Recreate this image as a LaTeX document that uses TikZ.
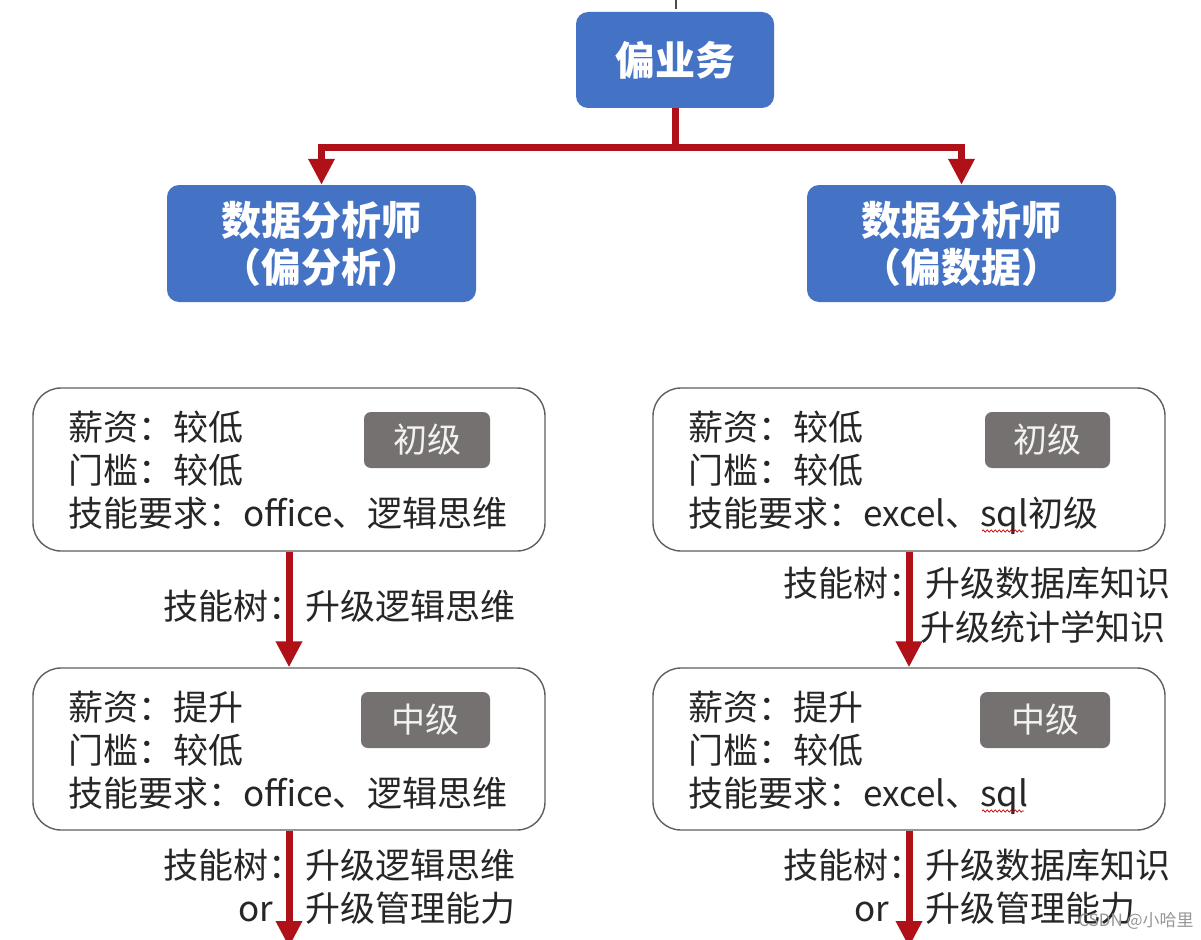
\documentclass[tikz,border=0pt]{standalone}
\usepackage{fontspec}
\newfontfamily\cjk{Noto Sans CJK SC}
\usetikzlibrary{arrows.meta,decorations.pathmorphing}
\definecolor{boxblue}{RGB}{68,114,196}
\definecolor{darkred}{RGB}{176,16,24}
\definecolor{graylab}{RGB}{118,113,113}
\definecolor{txtcol}{RGB}{38,38,38}
\definecolor{bordcol}{RGB}{95,95,95}
\begin{document}
\begin{tikzpicture}[x=1pt,y=-1pt,
  bluenode/.style={fill=boxblue, rounded corners=12pt, inner sep=0pt, text=white,
    font=\cjk\bfseries\fontsize{40}{47}\selectfont, align=center},
  whitebox/.style={draw=bordcol, line width=1.4pt, fill=white, rounded corners=28pt,
    minimum width=512pt, minimum height=163pt, inner sep=0pt},
  levelbox/.style={fill=graylab, rounded corners=7pt, inner sep=0pt, minimum height=56pt,
    text={rgb,255:red,242;green,242;blue,242}, font=\cjk\fontsize{34}{34}\selectfont},
  bodytext/.style={anchor=base west, inner sep=0pt, text=txtcol,
    font=\cjk\fontsize{35}{35}\selectfont},
  bodytextr/.style={bodytext, anchor=base east},
  conn/.style={draw=darkred, line width=7pt, line join=miter},
  arr/.style={conn, -{Triangle[width=25pt,length=26pt]}},
  squig/.style={draw=red!80!black, line width=0.7pt, decorate,
    decoration={snake, amplitude=1.1pt, segment length=4pt}}
]
\clip (0,0) rectangle (1201,939);
\fill[white] (0,0) rectangle (1201,939);

% tiny mark at top
\coordinate (tk1) at (676,0);
\coordinate (tk2) at (676,9);
\draw[black!70, line width=1.5pt] (tk1) -- (tk2);

% blue boxes
\node[bluenode, minimum width=198pt, minimum height=96pt] (top) at (675,60) {偏业务};
\node[bluenode, minimum width=309pt, minimum height=117pt] (anl) at (321.5,243.5) {数据分析师\\（偏分析）};
\node[bluenode, minimum width=309pt, minimum height=117pt] (dat) at (961.5,243.5) {数据分析师\\（偏数据）};

% connectors from top
\coordinate (junc) at (675,147);
\draw[conn] (top.south) -- (junc);
\draw[arr] (junc) -| (anl.north);
\draw[arr] (junc) -| (dat.north);

% white boxes
\node[whitebox] (l1) at (289,469.5) {};
\node[whitebox, minimum height=162pt] (l2) at (289,749) {};
\node[whitebox] (r1) at (909,469.5) {};
\node[whitebox, minimum height=162pt] (r2) at (909,749) {};

% level labels
\node[levelbox, minimum width=126pt] (lv1) at (427,440) {初级};
\node[levelbox, minimum width=129pt] (lv2) at (425.5,720) {中级};
\node[levelbox, minimum width=125pt] (lv3) at (1047.5,440) {初级};
\node[levelbox, minimum width=130pt] (lv4) at (1045,720) {中级};

% left box 1 text
\node[bodytext] (l1a) at (68,440) {薪资：较低};
\node[bodytext] (l1b) at (68,483) {门槛：较低};
\node[bodytext] (l1c) at (68,526) {技能要求：office、逻辑思维};
% left box 2 text
\node[bodytext] (l2a) at (68,720) {薪资：提升};
\node[bodytext] (l2b) at (68,763) {门槛：较低};
\node[bodytext] (l2c) at (68,806) {技能要求：office、逻辑思维};
% right box 1 text
\node[bodytext] (r1a) at (688,440) {薪资：较低};
\node[bodytext] (r1b) at (688,483) {门槛：较低};
\node[bodytext] (r1c) at (688,526) {技能要求：excel、sql初级};
% right box 2 text
\node[bodytext] (r2a) at (688,720) {薪资：提升};
\node[bodytext] (r2b) at (688,763) {门槛：较低};
\node[bodytext] (r2c) at (688,806) {技能要求：excel、sql};

% spell-check squiggles under sql
\coordinate (sq1a) at (982,531); \coordinate (sq1b) at (1024,531);
\coordinate (sq2a) at (982,811); \coordinate (sq2b) at (1024,811);
\path[squig] (sq1a) -- (sq1b);
\path[squig] (sq2a) -- (sq2b);

% vertical arrows
\draw[arr] (l1.south) -- (l2.north);
\draw[arr] (r1.south) -- (r2.north);
\coordinate (endL) at (289,947);
\coordinate (endR) at (909,947);
\draw[arr] (l2.south) -- (endL);
\draw[arr] (r2.south) -- (endR);

% arrow labels left
\node[bodytext] (ls1) at (163,619) {技能树：};
\node[bodytext] (ls2) at (305,619) {升级逻辑思维};
\node[bodytext] (ls3) at (163,878) {技能树：};
\node[bodytext] (ls4) at (305,878) {升级逻辑思维};
\node[bodytextr] (ls5) at (273,921) {or};
\node[bodytext] (ls6) at (305,921) {升级管理能力};
% arrow labels right
\node[bodytext] (rs1) at (783,596) {技能树：};
\node[bodytext] (rs2) at (925,596) {升级数据库知识};
\node[bodytext] (rs3) at (920,640) {升级统计学知识};
\node[bodytext] (rs4) at (783,878) {技能树：};
\node[bodytext] (rs5) at (925,878) {升级数据库知识};
\node[bodytextr] (rs6) at (889,921) {or};
\node[bodytext] (rs7) at (925,921) {升级管理能力};

% watermark
\node[inner sep=0pt, text={rgb,255:red,150;green,150;blue,150},
  font=\cjk\fontsize{17}{17}\selectfont] (wm) at (1136,921) {CSDN @小哈里};
\end{tikzpicture}
\end{document}
